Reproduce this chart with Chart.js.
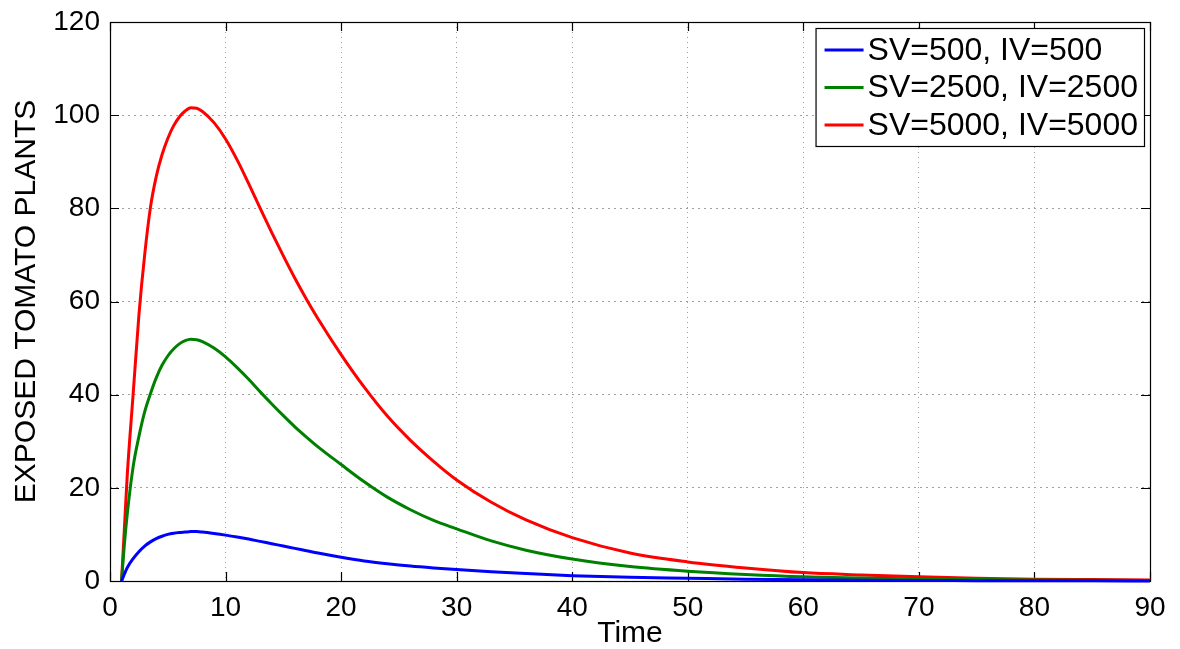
<!DOCTYPE html>
<html>
<head>
<meta charset="UTF-8" />
<script src="https://cdn.jsdelivr.net/npm/chart.js"></script>
<style>
  body { margin: 0; padding: 0; background: #fff; }
  #exposedChart { display: block; }
</style>
</head>
<body>
<canvas id="exposedChart" width="1180" height="649"></canvas>
<script>
  // values
  const times = [1, 1.25, 1.5, 2, 2.5, 3, 3.5, 4, 4.5, 5, 5.5, 6, 6.5, 7, 7.5, 8, 9, 10, 11, 12, 13, 14, 15, 16, 17, 18, 20, 22, 24, 26, 28, 30, 33, 36, 40, 45, 50, 55, 60, 65, 70, 75, 80, 85, 90];
  const exposed500 = [0, 1.5, 2.9, 4.8, 6.3, 7.5, 8.4, 9.1, 9.6, 10, 10.25, 10.4, 10.5, 10.6, 10.6, 10.5, 10.2, 9.85, 9.45, 9.0, 8.5, 8.0, 7.5, 7.0, 6.5, 6.0, 5.1, 4.3, 3.7, 3.2, 2.8, 2.45, 2.0, 1.6, 1.15, 0.8, 0.6, 0.4, 0.25, 0.16, 0.1, 0.07, 0.05, 0.03, 0.02];
  const exposed2500 = [0, 8, 14.5, 24.5, 31, 36.3, 40.2, 43.6, 46.3, 48.3, 49.8, 50.9, 51.6, 51.9, 51.8, 51.4, 50, 48.1, 45.8, 43.3, 40.6, 38, 35.5, 33.1, 30.9, 28.8, 25, 21.3, 18.0, 15.3, 13.0, 11.2, 8.6, 6.6, 4.7, 3.1, 2.1, 1.4, 0.9, 0.65, 0.45, 0.3, 0.2, 0.15, 0.1];
  const exposed5000 = [0, 11.5, 23, 40, 57, 70, 80.2, 86.8, 91.5, 95, 97.7, 99.6, 100.9, 101.6, 101.5, 100.8, 98.4, 94.9, 90.4, 85.3, 80, 74.8, 69.8, 65, 60.5, 56.3, 48.6, 41.6, 35.4, 30.2, 25.7, 21.7, 16.9, 13.1, 9.3, 6.0, 4.1, 2.8, 1.8, 1.3, 0.9, 0.6, 0.4, 0.3, 0.2];
  const seriesLabels = ['SV=500, IV=500', 'SV=2500, IV=2500', 'SV=5000, IV=5000'];
  const seriesColors = ['#0000ff', '#008000', '#ff0000'];
  const xTicks = [0, 10, 20, 30, 40, 50, 60, 70, 80, 90];
  const yTicks = [0, 20, 40, 60, 80, 100, 120];

  const FONT = '"Liberation Sans", Arial, Helvetica, sans-serif';

  const toPoints = (vals) => vals.map((v, i) => ({ x: times[i], y: v }));

  // box + inward ticks like the matlab axes
  const axesFrame = {
    id: 'axesFrame',
    beforeDatasetsDraw(chart) {
      const { ctx, chartArea: a, scales } = chart;
      const x = scales.x, y = scales.y;
      ctx.save();
      ctx.strokeStyle = '#000';
      ctx.lineWidth = 1.2;
      ctx.strokeRect(a.left + 0.5, a.top + 0.5, a.right - a.left, a.bottom - a.top);
      ctx.beginPath();
      xTicks.forEach(v => {
        const px = Math.round(x.getPixelForValue(v)) + 0.5;
        ctx.moveTo(px, a.bottom); ctx.lineTo(px, a.bottom - 9);
        ctx.moveTo(px, a.top); ctx.lineTo(px, a.top + 9);
      });
      yTicks.forEach(v => {
        const py = Math.round(y.getPixelForValue(v)) + 0.5;
        ctx.moveTo(a.left, py); ctx.lineTo(a.left + 9, py);
        ctx.moveTo(a.right, py); ctx.lineTo(a.right - 9, py);
      });
      ctx.stroke();
      ctx.restore();
    }
  };

  // legend box in the upper right corner
  const boxLegend = {
    id: 'boxLegend',
    afterDraw(chart) {
      const { ctx, chartArea: a } = chart;
      const ds = chart.data.datasets;
      ctx.save();
      ctx.font = '32px ' + FONT;
      const textW = Math.max(...ds.map(d => ctx.measureText(d.label).width));
      const rowH = 37.5;
      const padL = 9, lineW = 39, gap = 4, padR = 6;
      const w = padL + lineW + gap + textW + padR;
      const h = 118;
      const left = a.right - 6 - w;
      const top = a.top + 6;
      ctx.fillStyle = '#fff';
      ctx.fillRect(left, top, w, h);
      ctx.strokeStyle = '#000';
      ctx.lineWidth = 1.2;
      ctx.strokeRect(left + 0.5, top + 0.5, w, h);
      ctx.textBaseline = 'middle';
      ds.forEach((d, i) => {
        const cy = top + 22 + i * rowH;
        ctx.strokeStyle = d.borderColor;
        ctx.lineWidth = 3;
        ctx.beginPath();
        ctx.moveTo(left + padL, cy);
        ctx.lineTo(left + padL + lineW, cy);
        ctx.stroke();
        ctx.fillStyle = '#000';
        ctx.fillText(d.label, left + padL + lineW + gap, cy + 1);
      });
      ctx.restore();
    }
  };

  const datasets = [exposed500, exposed2500, exposed5000].map((vals, i) => ({
    label: seriesLabels[i],
    data: toPoints(vals),
    borderColor: seriesColors[i],
    backgroundColor: seriesColors[i],
    borderWidth: 3,
    pointRadius: 0,
    cubicInterpolationMode: 'monotone',
    fill: false,
    clip: false,
  }));

  const ctx = document.getElementById('exposedChart').getContext('2d');
  new Chart(ctx, {
    type: 'line',
    data: { datasets: datasets },
    plugins: [axesFrame, boxLegend],
    options: {
      responsive: false,
      animation: false,
      layout: { padding: { left: 0, right: 30, top: 22, bottom: 0 } },
      plugins: {
        legend: { display: false },
        tooltip: { enabled: false },
      },
      scales: {
        x: {
          type: 'linear',
          min: 0,
          max: 90,
          afterFit: (scale) => {
            scale.height = 68;
            scale.paddingLeft = 0;
            scale.paddingRight = 0;
          },
          afterBuildTicks: (scale) => { scale.ticks = xTicks.map(v => ({ value: v })); },
          ticks: { color: '#000', padding: 10, font: { family: FONT, size: 28 } },
          grid: { color: '#a0a0a0', lineWidth: 1, drawTicks: false },
          border: { display: false, dash: [1, 4] },
          title: {
            display: true,
            text: 'Time',
            color: '#000',
            font: { family: FONT, size: 30, lineHeight: 1 },
            padding: { top: 0, bottom: 0 },
          },
        },
        y: {
          min: 0,
          max: 120,
          afterFit: (scale) => {
            scale.width = 110;
            scale.paddingTop = 0;
            scale.paddingBottom = 0;
          },
          afterBuildTicks: (scale) => { scale.ticks = yTicks.map(v => ({ value: v })); },
          ticks: { color: '#000', padding: 10, font: { family: FONT, size: 28 } },
          grid: { color: '#a0a0a0', lineWidth: 1, drawTicks: false },
          border: { display: false, dash: [2, 4] },
          title: {
            display: true,
            text: 'EXPOSED TOMATO PLANTS',
            color: '#000',
            font: { family: FONT, size: 30, lineHeight: 1 },
            padding: { top: 12, bottom: 0 },
          },
        },
      },
    },
  });
</script>
</body>
</html>
